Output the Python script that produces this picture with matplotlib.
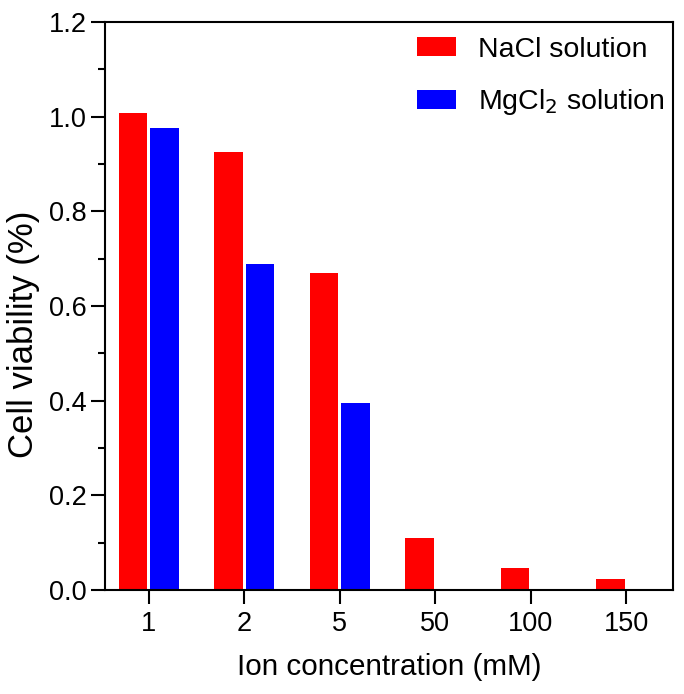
import matplotlib
matplotlib.use("Agg")
import matplotlib.pyplot as plt
import numpy as np
from matplotlib.ticker import MultipleLocator

plt.rcParams['font.family'] = ['Liberation Sans', 'DejaVu Sans']

categories = ['1', '2', '5', '50', '100', '150']
nacl = [1.007, 0.925, 0.669, 0.109, 0.046, 0.023]
mgcl2 = [0.976, 0.688, 0.394, 0.0, 0.0, 0.0]

fig = plt.figure(figsize=(6.84, 6.94), dpi=100)
ax = fig.add_axes([0.1535, 0.1499, 0.984 - 0.1535, 0.9683 - 0.1499])

x = np.arange(len(categories))
w = 0.30
ax.bar(x - 0.165, nacl, width=w, color='#ff0000', label='NaCl solution')
ax.bar(x + 0.165, mgcl2, width=w, color='#0000ff', label='MgCl$_2$ solution')

ax.set_xlim(-0.46, 5.49)
ax.set_ylim(0, 1.2)
ax.yaxis.set_minor_locator(MultipleLocator(0.1))
ax.set_yticks(np.arange(0, 1.21, 0.2))
ax.set_yticklabels([f'{v:.1f}' for v in np.arange(0, 1.21, 0.2)])
ax.set_xticks(x)
ax.set_xticklabels(categories)

for s in ax.spines.values():
    s.set_linewidth(1.5)
ax.tick_params(axis='both', which='major', direction='out', length=10, width=1.5, labelsize=19.5)
ax.tick_params(axis='y', which='major', pad=3)
ax.tick_params(axis='x', which='major', pad=5)
ax.tick_params(axis='y', which='minor', direction='out', length=5, width=1.5)
ax.tick_params(axis='x', which='minor', bottom=False)

ax.set_xlabel('Ion concentration (mM)', fontsize=21.3, labelpad=12)
ax.set_ylabel('Cell viability (%)', fontsize=25)
ax.yaxis.set_label_coords(-0.114, 0.451)

ax.legend(loc='upper right', bbox_to_anchor=(1.02, 1.009), frameon=False, fontsize=20.5,
          handlelength=1.37, handleheight=0.63, handletextpad=0.77, labelspacing=0.86,
          borderaxespad=0.3)

fig.savefig('out.png', dpi=100)
